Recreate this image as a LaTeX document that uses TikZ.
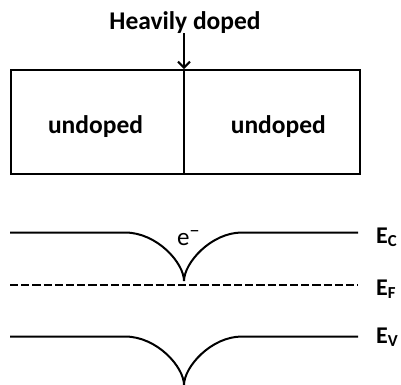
\documentclass[tikz,border=0pt]{standalone}
\usepackage{fontspec}
\setmainfont{Carlito}
\usetikzlibrary{arrows.meta}
\begin{document}
\begin{tikzpicture}[x=1pt,y=-1pt,
  line/.style={line width=2pt},
  lbl/.style={font=\bfseries\fontsize{25.5}{27}\selectfont, inner sep=0pt, anchor=base},
  elbl/.style={font=\bfseries\fontsize{24}{26}\selectfont, inner sep=0pt, anchor=base west}]
\useasboundingbox (0,0) rectangle (401,384);
% box
\node[draw, line width=2pt, minimum width=349pt, minimum height=104pt, inner sep=0pt, anchor=north west] (box) at (10,69) {};
\coordinate (top) at (184,69);
\coordinate (bot) at (184,173);
\draw[line] (top) -- (bot);
\node[lbl] (hd) at (185,29.5) {Heavily doped};
\coordinate (arrstart) at (184,33);
\draw[line, -{Straight Barb[length=6pt,width=12pt]}] (arrstart) -- (top);
\node[lbl] (u1) at (95.5,133) {undoped};
\node[lbl] (u2) at (278.3,133) {undoped};
% bands
\coordinate (c1) at (10,232.5);
\coordinate (c2) at (125,232.5);
\coordinate (cm) at (184,281);
\coordinate (c3) at (242,232.5);
\coordinate (c4) at (358,232.5);
\draw[line] (c1) -- (c2) .. controls (157,232.5) and (184,263) .. (cm) .. controls (184,263) and (211,232.5) .. (c3) -- (c4);
\coordinate (f1) at (10,285);
\coordinate (f2) at (358,285);
\draw[line, dash pattern=on 8.2pt off 3pt] (f1) -- (f2);
\coordinate (v1) at (10,336.5);
\coordinate (v2) at (125,336.5);
\coordinate (vm) at (184,385);
\coordinate (v3) at (242,336.5);
\coordinate (v4) at (358,336.5);
\draw[line] (v1) -- (v2) .. controls (157,336.5) and (184,367) .. (vm) .. controls (184,367) and (211,336.5) .. (v3) -- (v4);
\node[font=\fontsize{25}{27}\selectfont, inner sep=0pt, anchor=base west] (e) at (177,245) {e\raisebox{8pt}{\fontsize{20}{22}\selectfont −}};
\node[elbl] (ec) at (376,243) {E\textsubscript{C}};
\node[elbl] (ef) at (376,295) {E\textsubscript{F}};
\node[elbl] (ev) at (376,343) {E\textsubscript{V}};
\end{tikzpicture}
\end{document}
